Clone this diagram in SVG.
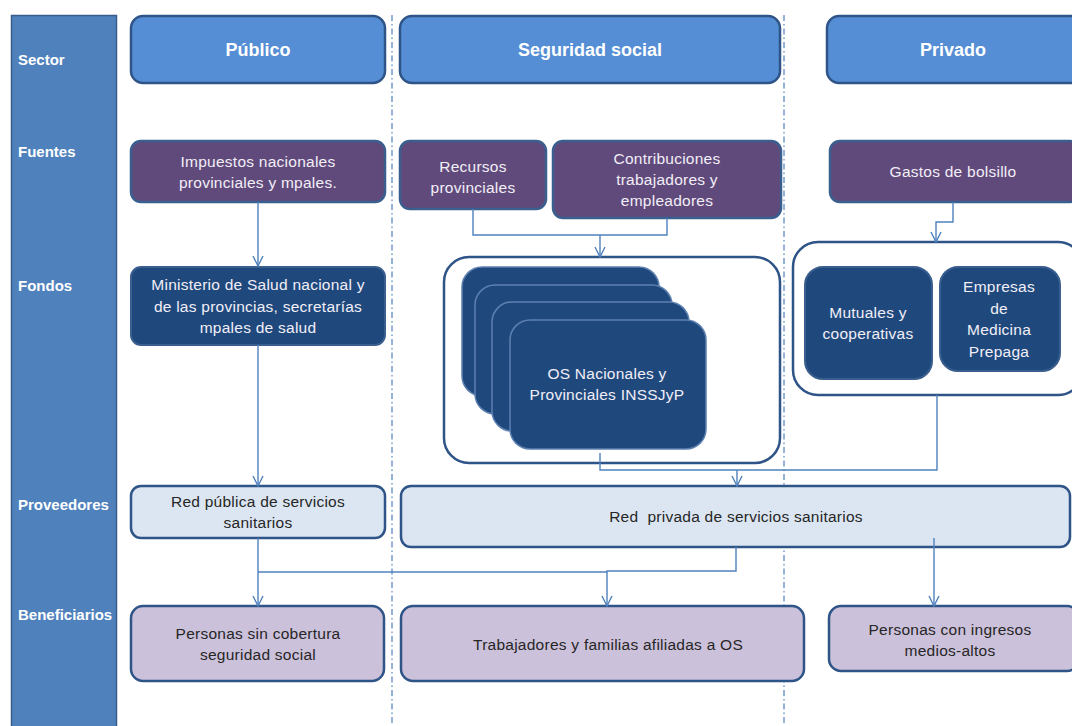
<svg xmlns="http://www.w3.org/2000/svg" width="1072" height="726" viewBox="0 0 1072 726">
  <style>
    .lbl { font-family: "Liberation Sans", Arial, sans-serif; font-weight: bold; font-size: 15px; fill: #ffffff; }
    .hdr { font-family: "Liberation Sans", Arial, sans-serif; font-weight: bold; font-size: 18px; fill: #ffffff; text-anchor: middle; }
    .t { font-family: "Liberation Sans", Arial, sans-serif; font-size: 15.5px; letter-spacing: 0.25px; text-anchor: middle; }
    .tl { fill: #f2eef7; }
    .td { fill: #262626; }
    .sector { fill: #558ed5; stroke: #2f5487; stroke-width: 2.5; }
    .fuente { fill: #604a7b; stroke: #3a5f8f; stroke-width: 2.5; }
    .fondo { fill: #1f497d; stroke: #3a5f8f; stroke-width: 2; }
    .card { fill: #1f497d; stroke: #5d80b0; stroke-width: 1.5; }
    .cont { fill: #ffffff; stroke: #2f5487; stroke-width: 2.5; }
    .prov { fill: #dce6f2; stroke: #2f5487; stroke-width: 2.5; }
    .benef { fill: #ccc1da; stroke: #2f5487; stroke-width: 2.5; }
    .sep { stroke: #4f81bd; stroke-width: 1.2; stroke-dasharray: 6 3 1.5 3; fill: none; }
    .conn { stroke: #4f81bd; stroke-width: 1.4; fill: none; }
  </style>
  <defs>
    <marker id="arr" viewBox="0 0 12 12" refX="11" refY="6" markerWidth="12" markerHeight="12" markerUnits="userSpaceOnUse" orient="auto">
      <path d="M1,1 L11,6 L1,11" fill="none" stroke="#4f81bd" stroke-width="1.4"/>
    </marker>
  </defs>

  <rect width="1072" height="726" fill="#ffffff"/>

  <!-- row label band -->
  <g id="band">
    <rect x="11.5" y="15.5" width="105" height="716" fill="#4f81bd" stroke="#385d8a" stroke-width="1.5"/>
    <text class="lbl" x="18" y="65">Sector</text>
    <text class="lbl" x="18" y="157">Fuentes</text>
    <text class="lbl" x="18" y="291">Fondos</text>
    <text class="lbl" x="18" y="510">Proveedores</text>
    <text class="lbl" x="18" y="620">Beneficiarios</text>
  </g>

  <!-- sector separators -->
  <g id="separators">
    <line class="sep" x1="392" y1="15" x2="392" y2="724"/>
    <line class="sep" x1="784" y1="15" x2="784" y2="724"/>
  </g>

  <!-- sector headers -->
  <g id="sector-publico">
    <rect class="sector" x="131" y="16" width="254" height="67" rx="12"/>
    <text class="hdr" x="258" y="56">Público</text>
  </g>
  <g id="sector-seguridad">
    <rect class="sector" x="400" y="16" width="380" height="67" rx="12"/>
    <text class="hdr" x="590" y="56">Seguridad social</text>
  </g>
  <g id="sector-privado">
    <rect class="sector" x="827" y="16" width="260" height="67" rx="12"/>
    <text class="hdr" x="953" y="56">Privado</text>
  </g>

  <!-- funding sources -->
  <g id="f-impuestos">
    <rect class="fuente" x="131" y="141" width="254" height="61" rx="10"/>
    <text class="t tl" x="258" y="167">Impuestos nacionales</text>
    <text class="t tl" x="258" y="188">provinciales y mpales.</text>
  </g>
  <g id="f-recursos">
    <rect class="fuente" x="400" y="141" width="146" height="68" rx="10"/>
    <text class="t tl" x="473" y="172">Recursos</text>
    <text class="t tl" x="473" y="193">provinciales</text>
  </g>
  <g id="f-contribuciones">
    <rect class="fuente" x="553" y="141" width="228" height="77" rx="10"/>
    <text class="t tl" x="667" y="164">Contribuciones</text>
    <text class="t tl" x="667" y="185">trabajadores y</text>
    <text class="t tl" x="667" y="206">empleadores</text>
  </g>
  <g id="f-gastos">
    <rect class="fuente" x="830" y="141" width="250" height="61" rx="10"/>
    <text class="t tl" x="953" y="177">Gastos de bolsillo</text>
  </g>

  <!-- funds -->
  <g id="fd-ministerio">
    <rect class="fondo" x="131" y="267" width="254" height="78" rx="10"/>
    <text class="t tl" x="258" y="290">Ministerio de Salud nacional y</text>
    <text class="t tl" x="258" y="312">de las provincias, secretarías</text>
    <text class="t tl" x="258" y="333">mpales de salud</text>
  </g>
  <g id="fd-obras-sociales">
    <rect class="cont" x="444" y="257" width="336" height="206" rx="25"/>
    <rect class="card" x="462" y="267" width="197" height="129" rx="20"/>
    <rect class="card" x="475" y="285" width="197" height="129" rx="20"/>
    <rect class="card" x="492" y="302" width="197" height="129" rx="20"/>
    <rect class="card" x="510" y="320" width="196" height="129" rx="20"/>
    <text class="t tl" x="607" y="379">OS Nacionales y</text>
    <text class="t tl" x="607" y="400">Provinciales INSSJyP</text>
  </g>
  <g id="fd-privados">
    <rect class="cont" x="793" y="242" width="290" height="153" rx="25"/>
    <rect class="fondo" x="805" y="267" width="127" height="112" rx="18"/>
    <text class="t tl" x="868" y="318">Mutuales y</text>
    <text class="t tl" x="868" y="339">cooperativas</text>
    <rect class="fondo" x="940" y="267" width="120" height="104" rx="18"/>
    <text class="t tl" x="999" y="292">Empresas</text>
    <text class="t tl" x="999" y="314">de</text>
    <text class="t tl" x="999" y="335">Medicina</text>
    <text class="t tl" x="999" y="357">Prepaga</text>
  </g>

  <!-- providers -->
  <g id="p-publica">
    <rect class="prov" x="131" y="486" width="254" height="52" rx="10"/>
    <text class="t td" x="258" y="507">Red pública de servicios</text>
    <text class="t td" x="258" y="528">sanitarios</text>
  </g>
  <g id="p-privada">
    <rect class="prov" x="401" y="486" width="669" height="61" rx="10"/>
    <text class="t td" x="736" y="522" xml:space="preserve">Red  privada de servicios sanitarios</text>
  </g>

  <!-- beneficiaries -->
  <g id="b-sin-cobertura">
    <rect class="benef" x="131" y="606" width="253" height="75" rx="12"/>
    <text class="t td" x="258" y="639">Personas sin cobertura</text>
    <text class="t td" x="258" y="660">seguridad social</text>
  </g>
  <g id="b-afiliados">
    <rect class="benef" x="401" y="606" width="403" height="75" rx="12"/>
    <text class="t td" x="608" y="650">Trabajadores y familias afiliadas a OS</text>
  </g>
  <g id="b-ingresos">
    <rect class="benef" x="829" y="606" width="250" height="65" rx="12"/>
    <text class="t td" x="950" y="635">Personas con ingresos</text>
    <text class="t td" x="950" y="656">medios-altos</text>
  </g>

  <!-- connectors -->
  <g id="connectors">
    <path class="conn" d="M258,202 V266" marker-end="url(#arr)"/>
    <path class="conn" d="M473,209 V235 H667 V218"/>
    <path class="conn" d="M600,235 V257" marker-end="url(#arr)"/>
    <path class="conn" d="M953,202 V222 H936 V242" marker-end="url(#arr)"/>
    <path class="conn" d="M258,345 V486" marker-end="url(#arr)"/>
    <path class="conn" d="M600,453 V470 H937 V395"/>
    <path class="conn" d="M737,470 V486" marker-end="url(#arr)"/>
    <path class="conn" d="M258,538 V606" marker-end="url(#arr)"/>
    <path class="conn" d="M258,572 H607"/>
    <path class="conn" d="M736,547 V571 H607 V606" marker-end="url(#arr)"/>
    <path class="conn" d="M934,538 V606" marker-end="url(#arr)"/>
  </g>
</svg>
